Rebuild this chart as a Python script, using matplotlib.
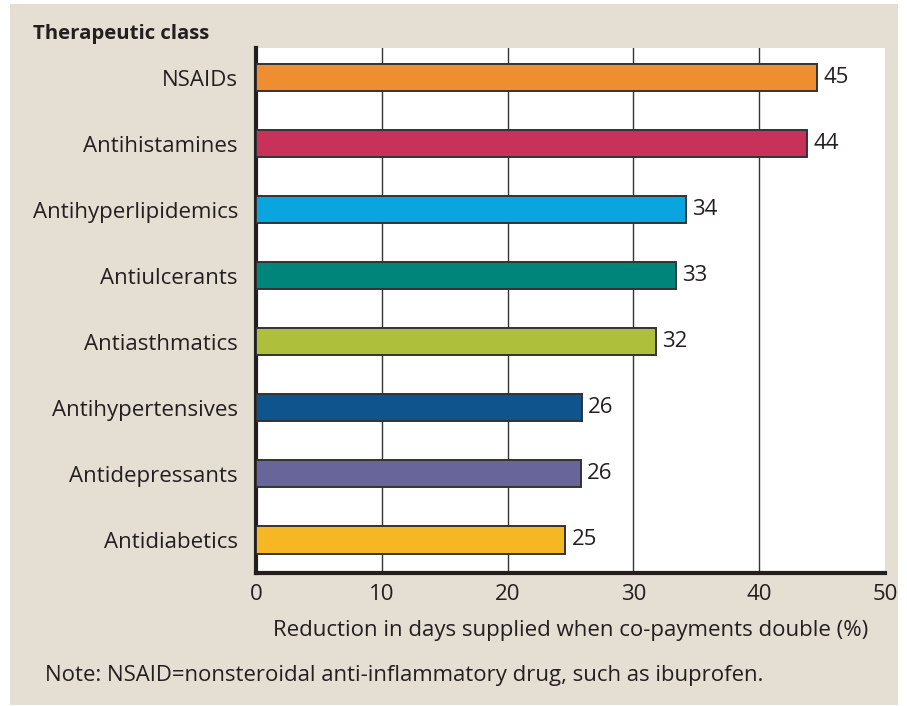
import matplotlib.pyplot as plt
from matplotlib.patches import Rectangle

classes = ['NSAIDs', 'Antihistamines', 'Antihyperlipidemics', 'Antiulcerants',
           'Antiasthmatics', 'Antihypertensives', 'Antidepressants', 'Antidiabetics']
reduction = [44.6, 43.8, 34.2, 33.4, 31.8, 25.9, 25.8, 24.6]
bar_colors = ['#EE8E31', '#C8325A', '#0AA5DF', '#00857A',
              '#ADBF3B', '#0F548C', '#67659A', '#F5B823']
x_ticks = [0, 10, 20, 30, 40, 50]

plt.rcParams['font.family'] = ['Open Sans', 'DejaVu Sans']
TEXT = '#231F20'
W, H = 907, 706
FS = 16

fig = plt.figure(figsize=(W / 100, H / 100), dpi=100, facecolor='white')

# beige panel behind everything
fig.patches.append(Rectangle((10 / W, 1 / H), 888 / W, 701 / H,
                             transform=fig.transFigure, facecolor='#E4DED3',
                             edgecolor='none', zorder=-5))

ax = fig.add_axes([256 / W, 1 - 573 / H, 629 / W, 525 / H])
ax.set_facecolor('white')

ypos = list(range(len(classes)))
ax.barh(ypos, reduction, height=0.41, color=bar_colors,
        edgecolor='#333333', linewidth=1.4, zorder=3)

for y, v in zip(ypos, reduction):
    ax.text(v + 0.5, y, f'{round(v)}', va='center', ha='left',
            fontsize=FS, color=TEXT)

ax.set_xlim(0, 50)
ax.set_ylim(7.5, -0.45)
ax.set_yticks(ypos)
ax.set_yticklabels(classes, fontsize=FS, color=TEXT)
ax.set_xticks(x_ticks)
ax.set_xticklabels([str(t) for t in x_ticks], fontsize=FS, color=TEXT)
ax.tick_params(axis='y', length=0, pad=13)
ax.tick_params(axis='x', length=0, pad=8)

for t in x_ticks[1:-1]:
    ax.axvline(t, color='#333333', linewidth=1.0, zorder=1)

for side in ['top', 'right']:
    ax.spines[side].set_visible(False)
ax.spines['left'].set_linewidth(3)
ax.spines['bottom'].set_linewidth(3)
ax.spines['left'].set_color('#231F20')
ax.spines['bottom'].set_color('#231F20')

ax.set_xlabel('Reduction in days supplied when co-payments double (%)',
              fontsize=FS, color=TEXT, labelpad=11)

fig.text(33 / W, 1 - 34 / H, 'Therapeutic class', fontsize=14.7,
         fontweight='bold', color=TEXT, va='center', ha='left')
fig.text(45 / W, 1 - 675 / H,
         'Note: NSAID=nonsteroidal anti-inflammatory drug, such as ibuprofen.',
         fontsize=15.9, color=TEXT, va='center', ha='left')

fig.savefig('out.png', dpi=100, facecolor='white')
